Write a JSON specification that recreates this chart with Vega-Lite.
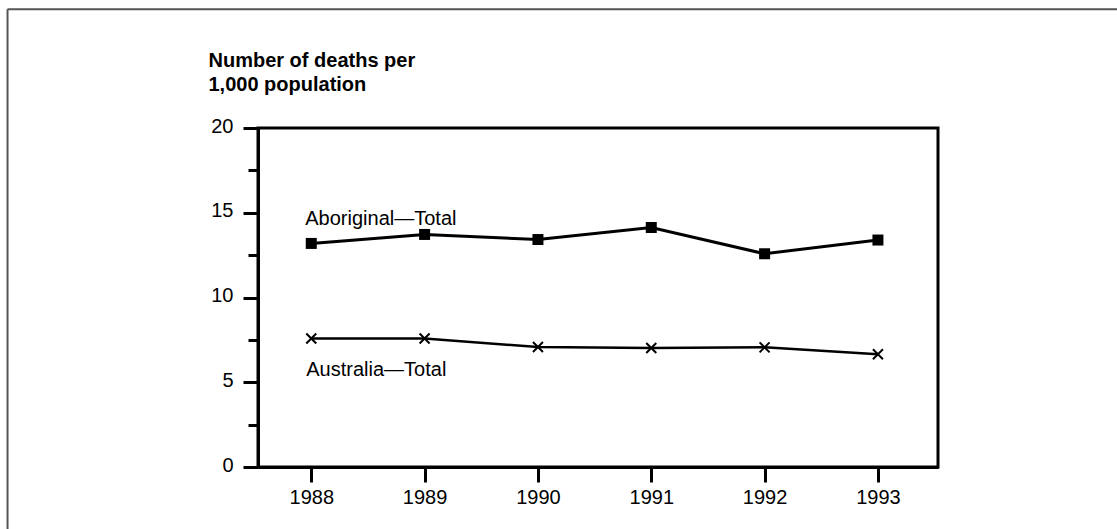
{
  "$schema": "https://vega.github.io/schema/vega-lite/v6.json",
  "width": 680,
  "height": 339,
  "autosize": "none",
  "padding": {"left": 258, "top": 128, "right": 179, "bottom": 62},
  "background": "white",
  "config": {
    "view": {"stroke": "black", "strokeWidth": 3},
    "font": "Liberation Sans",
    "text": {"font": "Liberation Sans"}
  },
  "datasets": {
    "deaths": [
      {"series": "Aboriginal—Total", "year": 1988, "value": 13.19},
      {"series": "Aboriginal—Total", "year": 1989, "value": 13.72},
      {"series": "Aboriginal—Total", "year": 1990, "value": 13.42},
      {"series": "Aboriginal—Total", "year": 1991, "value": 14.13},
      {"series": "Aboriginal—Total", "year": 1992, "value": 12.58},
      {"series": "Aboriginal—Total", "year": 1993, "value": 13.39},
      {"series": "Australia—Total", "year": 1988, "value": 7.58},
      {"series": "Australia—Total", "year": 1989, "value": 7.58},
      {"series": "Australia—Total", "year": 1990, "value": 7.08},
      {"series": "Australia—Total", "year": 1991, "value": 7.02},
      {"series": "Australia—Total", "year": 1992, "value": 7.06},
      {"series": "Australia—Total", "year": 1993, "value": 6.65}
    ],
    "single": [{"item": "annotation"}]
  },
  "data": {"name": "deaths"},
  "layer": [
    {
      "transform": [{"filter": "datum.series === 'Aboriginal—Total'"}],
      "mark": {"type": "line", "color": "black", "strokeWidth": 3},
      "encoding": {
        "x": {
          "field": "year", "type": "quantitative",
          "scale": {"domain": [1987.53, 1993.53], "nice": false, "zero": false},
          "axis": {
            "values": [1988, 1989, 1990, 1991, 1992, 1993],
            "format": "d",
            "title": null,
            "grid": false,
            "tickSize": 15,
            "tickWidth": 3,
            "tickColor": "black",
            "domainColor": "black",
            "domainWidth": 3,
            "labelFontSize": 20,
            "labelColor": "black",
            "labelPadding": 5,
            "labelFont": "Liberation Sans"
          }
        },
        "y": {
          "field": "value", "type": "quantitative",
          "scale": {"domain": [0, 20], "nice": false},
          "axis": {
            "values": [0, 2.5, 5, 7.5, 10, 12.5, 15, 17.5, 20],
            "labelExpr": "datum.value % 5 === 0 ? datum.label : ''",
            "tickSize": {"condition": {"test": "datum.value % 5 === 0", "value": 15}, "value": 10},
            "tickWidth": 3,
            "tickColor": "black",
            "domainColor": "black",
            "domainWidth": 3,
            "grid": false,
            "labelFontSize": 20,
            "labelColor": "black",
            "labelPadding": 10,
            "labelOffset": -2,
            "labelFont": "Liberation Sans",
            "title": ["Number of deaths per", "1,000 population"],
            "titleAngle": 0,
            "titleAlign": "left",
            "titleBaseline": "alphabetic",
            "titleX": -50,
            "titleY": -62,
            "titleFontSize": 20,
            "titleFontWeight": "bold",
            "titleFont": "Liberation Sans",
            "titleLineHeight": 24,
            "titleColor": "black"
          }
        }
      }
    },
    {
      "transform": [{"filter": "datum.series === 'Australia—Total'"}],
      "mark": {"type": "line", "color": "black", "strokeWidth": 2.5},
      "encoding": {
        "x": {"field": "year", "type": "quantitative", "scale": {"domain": [1987.53, 1993.53], "nice": false, "zero": false}},
        "y": {"field": "value", "type": "quantitative", "scale": {"domain": [0, 20], "nice": false}}
      }
    },
    {
      "transform": [{"filter": "datum.series === 'Aboriginal—Total'"}],
      "mark": {"type": "point", "shape": "square", "filled": true, "color": "black", "size": 121, "opacity": 1},
      "encoding": {
        "x": {"field": "year", "type": "quantitative", "scale": {"domain": [1987.53, 1993.53], "nice": false, "zero": false}},
        "y": {"field": "value", "type": "quantitative", "scale": {"domain": [0, 20], "nice": false}}
      }
    },
    {
      "transform": [{"filter": "datum.series === 'Australia—Total'"}],
      "mark": {"type": "point", "shape": "M-1,-1L1,1M-1,1L1,-1", "filled": false, "color": "black", "strokeWidth": 2, "size": 100, "opacity": 1},
      "encoding": {
        "x": {"field": "year", "type": "quantitative", "scale": {"domain": [1987.53, 1993.53], "nice": false, "zero": false}},
        "y": {"field": "value", "type": "quantitative", "scale": {"domain": [0, 20], "nice": false}}
      }
    },
    {
      "data": {"name": "single"},
      "mark": {"type": "text", "text": "Aboriginal—Total", "align": "left", "baseline": "alphabetic", "dx": -6, "fontSize": 20, "fill": "black"},
      "encoding": {
        "x": {"datum": 1988, "type": "quantitative", "scale": {"domain": [1987.53, 1993.53], "nice": false, "zero": false}},
        "y": {"datum": 14.3, "type": "quantitative", "scale": {"domain": [0, 20], "nice": false}}
      }
    },
    {
      "data": {"name": "single"},
      "mark": {"type": "text", "text": "Australia—Total", "align": "left", "baseline": "alphabetic", "dx": -5, "fontSize": 20, "fill": "black"},
      "encoding": {
        "x": {"datum": 1988, "type": "quantitative", "scale": {"domain": [1987.53, 1993.53], "nice": false, "zero": false}},
        "y": {"datum": 5.38, "type": "quantitative", "scale": {"domain": [0, 20], "nice": false}}
      }
    },
    {
      "data": {"name": "single"},
      "mark": {"type": "rule", "color": "#555555", "strokeWidth": 2, "clip": false},
      "encoding": {
        "x": {"datum": 1985.32, "type": "quantitative", "scale": {"domain": [1987.53, 1993.53], "nice": false, "zero": false}},
        "x2": {"datum": 1995.3},
        "y": {"datum": 27.0, "type": "quantitative", "scale": {"domain": [0, 20], "nice": false}}
      }
    },
    {
      "data": {"name": "single"},
      "mark": {"type": "rule", "color": "#555555", "strokeWidth": 2, "clip": false},
      "encoding": {
        "x": {"datum": 1985.32, "type": "quantitative", "scale": {"domain": [1987.53, 1993.53], "nice": false, "zero": false}},
        "y": {"datum": 27.0, "type": "quantitative", "scale": {"domain": [0, 20], "nice": false}},
        "y2": {"datum": -4}
      }
    }
  ]
}
